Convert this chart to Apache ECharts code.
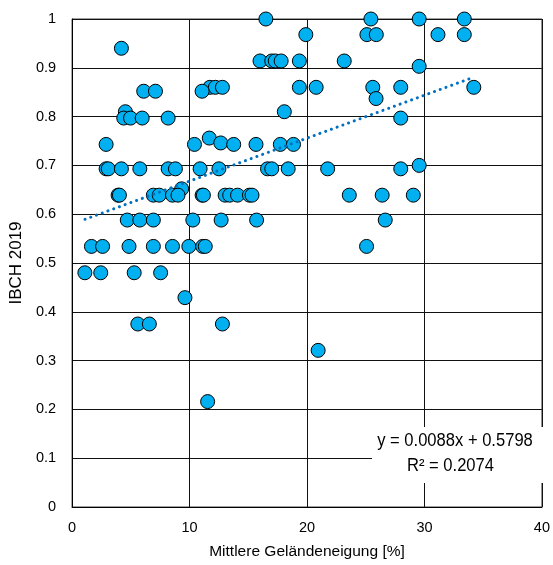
<!DOCTYPE html>
<html><head><meta charset="utf-8">
<script src="https://cdn.jsdelivr.net/npm/echarts@6/dist/echarts.min.js"></script>
<style>html,body{margin:0;padding:0;background:#fff}#c{width:553px;height:565px}</style>
</head><body><div id="c"></div>
<script>
// Mittlere Geländeneigung [%] (x) and IBCH 2019 (y)
const slopeX = [
  16.5, 25.44, 29.55, 33.39,
  19.9, 25.1, 25.9, 31.15, 33.39,
  4.2,
  16.0, 17.0, 17.3, 17.8, 19.35, 23.17,
  29.55,
  11.74, 12.2, 12.8, 19.35, 20.78, 25.6, 27.98, 34.2,
  6.1, 7.1, 11.07,
  25.88,
  4.54, 18.07,
  4.4, 4.98, 5.97, 8.18, 27.98,
  11.68, 12.66,
  2.9, 10.42, 13.76, 15.66, 17.73, 18.85,
  29.55,
  2.9, 3.08, 4.2, 5.77, 8.18, 8.8, 10.9, 12.5, 16.64, 17.0, 18.4, 21.76, 27.98,
  9.33,
  3.92, 4.03, 6.92, 7.42, 8.55, 9.02, 11.07, 11.18, 13.03, 13.42, 14.09, 15.1, 15.32, 23.6, 26.4, 29.05,
  4.7, 5.77, 6.92, 10.28, 12.69, 15.71, 26.66,
  1.65, 2.6, 4.85, 6.92, 8.55, 9.94, 11.12, 11.34, 25.07,
  1.09, 2.44, 5.29, 7.54,
  9.61,
  5.6, 6.58, 12.8,
  20.95,
  11.54
];
const ibchY = [
  1.0, 1.0, 1.0, 1.0,
  0.968, 0.968, 0.968, 0.968, 0.968,
  0.940,
  0.914, 0.914, 0.914, 0.914, 0.914, 0.914,
  0.903,
  0.860, 0.860, 0.860, 0.860, 0.860, 0.860, 0.860, 0.860,
  0.852, 0.852, 0.852,
  0.837,
  0.810, 0.810,
  0.797, 0.797, 0.797, 0.797, 0.797,
  0.756, 0.746,
  0.743, 0.743, 0.743, 0.743, 0.743, 0.743,
  0.700,
  0.693, 0.693, 0.693, 0.693, 0.693, 0.693, 0.693, 0.693, 0.693, 0.693, 0.693, 0.693, 0.693,
  0.652,
  0.639, 0.639, 0.639, 0.639, 0.639, 0.639, 0.639, 0.639, 0.639, 0.639, 0.639, 0.639, 0.639, 0.639, 0.639, 0.639,
  0.588, 0.588, 0.588, 0.588, 0.588, 0.588, 0.588,
  0.534, 0.534, 0.534, 0.534, 0.534, 0.534, 0.534, 0.534, 0.534,
  0.480, 0.480, 0.480, 0.480,
  0.429,
  0.375, 0.375, 0.375,
  0.321,
  0.216
];
// linear trendline endpoints (as drawn)
const trendX = [1.1, 34.2];
const trendY = [0.5895, 0.8808];
const equationText = 'y = 0.0088x + 0.5798';
const r2Text = 'R² = 0.2074';

const chart = echarts.init(document.getElementById('c'), null, {renderer: 'canvas'});
const FONT = 'Liberation Sans, Arial, sans-serif';
chart.setOption({
  animation: false,
  grid: {left: 71, right: 6, top: 19, bottom: 56, show: true, borderColor: '#444', borderWidth: 1},
  xAxis: {
    type: 'value', min: 0, max: 40, interval: 10,
    name: 'Mittlere Geländeneigung [%]', nameLocation: 'middle', nameGap: 37,
    nameTextStyle: {fontFamily: FONT, fontSize: 15.5, color: '#000'},
    axisLine: {show: true, lineStyle: {color: '#000', width: 1}},
    axisTick: {show: false},
    axisLabel: {fontFamily: FONT, fontSize: 14.5, color: '#000', margin: 13},
    splitLine: {show: true, lineStyle: {color: '#111', width: 1}}
  },
  yAxis: {
    type: 'value', min: 0, max: 1, interval: 0.1,
    name: 'IBCH 2019', nameLocation: 'middle', nameGap: 44,
    nameTextStyle: {fontFamily: FONT, fontSize: 17, color: '#000'},
    axisLine: {show: true, lineStyle: {color: '#000', width: 1}},
    axisTick: {show: false},
    axisLabel: {fontFamily: FONT, fontSize: 14.5, color: '#000', margin: 16,
      formatter: v => String(Math.round(v * 10) / 10)},
    splitLine: {show: true, lineStyle: {color: '#111', width: 1}}
  },
  series: [
    {
      type: 'scatter', symbol: 'circle', symbolSize: 14,
      itemStyle: {color: '#00B0F0', borderColor: '#000', borderWidth: 1, opacity: 1},
      data: slopeX.map((x, i) => [x, ibchY[i]]), z: 3
    },
    {
      type: 'line', showSymbol: false, symbol: 'none',
      lineStyle: {color: '#0070C0', width: 3, type: [0.1, 6], cap: 'round'},
      data: trendX.map((x, i) => [x, trendY[i]]), z: 4
    }
  ],
  graphic: [
    {type: 'rect', x: 372, y: 427, shape: {width: 171, height: 56}, style: {fill: '#fff'}, z: 10},
    {type: 'text', x: 455, y: 441, scaleX: 0.92, z: 11,
      style: {text: equationText, fontFamily: FONT, fontSize: 18, fill: '#000', align: 'center', verticalAlign: 'middle'}},
    {type: 'text', x: 450.5, y: 466, scaleX: 0.92, z: 11,
      style: {text: r2Text, fontFamily: FONT, fontSize: 18, fill: '#000', align: 'center', verticalAlign: 'middle'}}
  ]
});
</script></body></html>
